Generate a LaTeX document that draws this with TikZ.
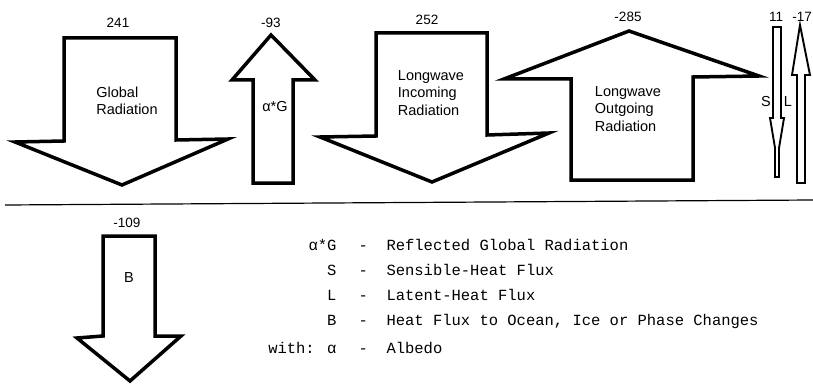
\documentclass[tikz,border=0pt]{standalone}
\usepackage{fontspec}
\setmainfont{Liberation Sans}
\newfontfamily\legendfont{Liberation Mono}
\usetikzlibrary{positioning}

\begin{document}
\begin{tikzpicture}[x=1pt,y=-1pt,
  flux/.style={line width=3.5pt},
  thinflux/.style={line width=1.9pt},
  val/.style={font=\fontsize{13.5}{15}\selectfont},
  lab/.style={font=\fontsize{14.5}{17.5}\selectfont, align=left},
  key/.style={font=\legendfont\fontsize{15.5}{18}\selectfont, anchor=base east},
  desc/.style={font=\legendfont\fontsize{15.5}{18}\selectfont, anchor=base west}]
  \useasboundingbox (0,0) rectangle (813,385);
  % upper row of fluxes
  \draw[flux] (64,38) -- (176,38) -- (176,140) -- (228,139) -- (122,185) -- (15,142) -- (64,141) -- cycle;
  \draw[flux] (253,183) -- (253,80) -- (232,80) -- (271,35) -- (315,80) -- (293,80) -- (293,183) -- cycle;
  \draw[flux] (376,33) -- (487,33) -- (487,135) -- (549,133) -- (432,182) -- (320,137) -- (376,136) -- cycle;
  \draw[flux] (571,180) -- (571,79) -- (504,79) -- (629,31) -- (759,76) -- (693,77) -- (693,180) -- cycle;
  \draw[thinflux] (773,27) -- (781,27) -- (781,118) -- (784,118) -- (779,148) -- (779,177) -- (775,177) -- (775,148) -- (770,118) -- (773,118) -- cycle;
  \draw[thinflux] (797,183) -- (797,75) -- (792,75) -- (800,25) -- (810,75) -- (805,75) -- (805,183) -- cycle;
  \node[val] (vG) at (118,23) {241};
  \node[val] (vR) at (271,23) {-93};
  \node[val] (vLi) at (427,20) {252};
  \node[val] (vLo) at (628,17) {-285};
  \node[val] (vS) at (776,17) {11};
  \node[val, anchor=east, inner sep=1pt] (vL) at (813,17) {-17};
  \node[lab] (tG) at (127,101) {Global\\Radiation};
  \node[lab] (tR) at (275,107) {α*G};
  \node[lab] (tLi) at (431,93) {Longwave\\Incoming\\Radiation};
  \node[lab] (tLo) at (628,109) {Longwave\\Outgoing\\Radiation};
  \node[lab] (tS) at (766,102) {S};
  \node[lab] (tL) at (788,102) {L};
  % surface line
  \draw[line width=1.2pt] (5,205) -- (813,200);
  % heat flux to ocean
  \draw[flux] (103,236) -- (155,236) -- (155,336) -- (181,336) -- (130,381) -- (77,338) -- (103,336) -- cycle;
  \node[val] (vB) at (127,223) {-109};
  \node[lab] (tB) at (129,278) {B};
  % legend
  \node[key] (k1) at (340,250) {α*G};
  \node[key] (k2) at (340,275) {S};
  \node[key] (k3) at (340,300) {L};
  \node[key] (k4) at (340,325) {B};
  \node[key] (k5) at (340,353) {with: α};
  \node[desc] (d1) at (355,250) {-};
  \node[desc] (d2) at (355,275) {-};
  \node[desc] (d3) at (355,300) {-};
  \node[desc] (d4) at (355,325) {-};
  \node[desc] (d5) at (355,353) {-};
  \node[desc] (e1) at (383,250) {Reflected Global Radiation};
  \node[desc] (e2) at (383,275) {Sensible-Heat Flux};
  \node[desc] (e3) at (383,300) {Latent-Heat Flux};
  \node[desc] (e4) at (383,325) {Heat Flux to Ocean, Ice or Phase Changes};
  \node[desc] (e5) at (383,353) {Albedo};
\end{tikzpicture}
\end{document}
